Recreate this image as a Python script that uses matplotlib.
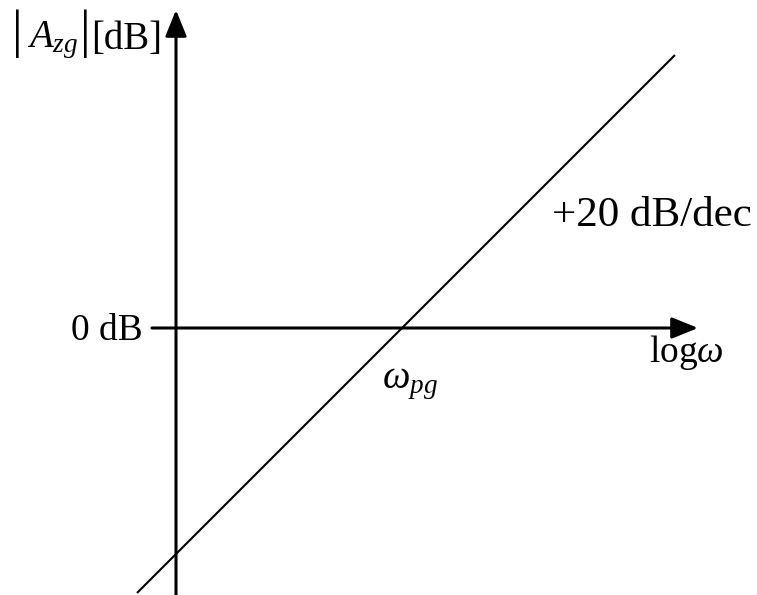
"""
Asymptotic Bode magnitude sketch: +20 dB/dec line crossing 0 dB at omega_pg.
"""

import matplotlib
matplotlib.use('Agg')
import matplotlib.pyplot as plt

plt.rcParams['mathtext.fontset'] = 'custom'
plt.rcParams['mathtext.rm'] = 'Liberation Serif'
plt.rcParams['mathtext.it'] = 'Liberation Serif:italic'
plt.rcParams['font.family'] = 'Liberation Serif'

# data: x is log(omega) in decades, y is magnitude in dB
slope_db_per_dec = 20.0
log_w_pg = 2.26
line_x = [-0.39, 4.99]
line_y = [slope_db_per_dec * (x - log_w_pg) for x in line_x]

x_axis_range = [-0.24, 5.22]
y_axis_range = [-53.4, 63.6]

fig = plt.figure(figsize=(7.57, 5.95), dpi=100)
ax = fig.add_axes([0, 0, 1, 1])
ax.set_xlim(-1.76, 5.81)
ax.set_ylim(-53.4, 65.6)
ax.axis('off')

arrow = dict(arrowstyle='-|>,head_length=16,head_width=6.5', mutation_scale=1,
             lw=2.2, color='black', shrinkA=0, shrinkB=0)

# axes with arrow heads
ax.annotate('', xy=(x_axis_range[1], 0), xytext=(x_axis_range[0], 0), arrowprops=arrow)
ax.annotate('', xy=(0, y_axis_range[1]), xytext=(0, y_axis_range[0]), arrowprops=arrow)

# asymptote
ax.plot(line_x, line_y, color='black', lw=1.5, solid_capstyle='butt')

fs = 27
# y-axis label |A_zg| [dB] with tall magnitude bars
ax.text(-1.59, 58.8, '|', fontsize=38, ha='center', va='center')
ax.text(-1.49, 57.6, r'$A_{zg}$', fontsize=28, ha='left', va='center')
ax.text(-0.91, 58.8, '|', fontsize=38, ha='center', va='center')
ax.text(-0.85, 57.8, '[dB]', fontsize=28, ha='left', va='center')

ax.text(-0.33, -0.6, '0 dB', fontsize=fs, ha='right', va='center')
ax.text(log_w_pg + 0.08, -11, r'$\omega_{pg}$', fontsize=28, ha='center', va='center')
ax.text(4.76, 22.4, '+20 dB/dec', fontsize=31, ha='center', va='center')
ax.text(5.10, -5, r'log$\omega$', fontsize=fs, ha='center', va='center')

fig.savefig('out.png', dpi=100)
